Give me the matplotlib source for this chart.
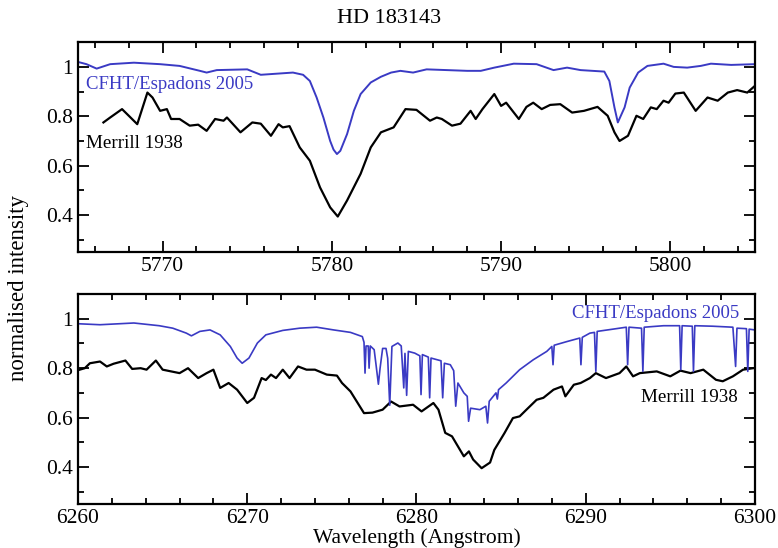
import numpy as np
import matplotlib
matplotlib.use('Agg')
import matplotlib.pyplot as plt
from matplotlib.ticker import MultipleLocator

plt.rcParams['font.family'] = ['Liberation Serif', 'DejaVu Serif']

# --- top panel: 5780 / 5797 DIBs ---
top_cfht_wl = [5765.0, 5765.5, 5766.1, 5766.9, 5768.3, 5769.85, 5771.0, 5772.2,
               5772.6, 5773.2, 5775.0, 5775.8, 5777.7, 5778.3, 5778.7, 5779.1,
               5779.5, 5779.9, 5780.1, 5780.3, 5780.5, 5780.9, 5781.3, 5781.7,
               5782.3, 5782.9, 5783.5, 5784.05, 5784.8, 5785.6, 5786.8, 5788.0,
               5788.8, 5789.6, 5790.75, 5792.1, 5793.1, 5793.9, 5794.7, 5796.1,
               5796.4, 5796.7, 5796.9, 5797.3, 5797.6, 5798.1, 5798.65, 5799.6,
               5800.2, 5801.0, 5801.8, 5802.4, 5803.6, 5805.0]
top_cfht_flux = [1.02, 1.011, 0.993, 1.011, 1.017, 1.011, 1.004, 0.984,
                 0.977, 0.987, 0.99, 0.968, 0.977, 0.968, 0.943, 0.876,
                 0.795, 0.70, 0.665, 0.647, 0.66, 0.728, 0.822, 0.89,
                 0.937, 0.96, 0.977, 0.984, 0.977, 0.99, 0.987, 0.984,
                 0.984, 0.997, 1.013, 1.011, 0.987, 0.997, 0.987, 0.981,
                 0.943, 0.836, 0.775, 0.836, 0.916, 0.977, 1.004, 1.013,
                 1.0, 0.997, 1.004, 1.013, 1.008, 1.011]

top_merrill_wl = [5766.5, 5766.9, 5767.6, 5768.0, 5768.5, 5769.1, 5769.4, 5769.85,
                  5770.25, 5770.5, 5771.0, 5771.6, 5772.1, 5772.6, 5773.1, 5773.6,
                  5773.8, 5774.6, 5775.3, 5775.8, 5776.4, 5776.85, 5777.1, 5777.5,
                  5778.1, 5778.7, 5779.3, 5779.9, 5780.35, 5780.9, 5781.7, 5782.3,
                  5782.9, 5783.65, 5784.35, 5785.0, 5785.8, 5786.2, 5786.5, 5787.1,
                  5787.6, 5788.2, 5788.5, 5788.9, 5789.6, 5790.0, 5790.3, 5791.05,
                  5791.5, 5791.9, 5792.4, 5792.9, 5793.5, 5794.2, 5794.9, 5795.7,
                  5796.3, 5796.7, 5797.0, 5797.5, 5798.0, 5798.4, 5798.85, 5799.2,
                  5799.6, 5799.9, 5800.3, 5800.8, 5801.5, 5802.2, 5802.8, 5803.4,
                  5803.95, 5804.55, 5805.0]
top_merrill_flux = [0.775, 0.795, 0.829, 0.802, 0.768, 0.896, 0.876, 0.822,
                    0.829, 0.789, 0.789, 0.762, 0.766, 0.741, 0.789, 0.782,
                    0.795, 0.735, 0.775, 0.77, 0.721, 0.768, 0.755, 0.76,
                    0.674, 0.62, 0.512, 0.431, 0.394, 0.459, 0.567, 0.674,
                    0.735, 0.755, 0.829, 0.826, 0.782, 0.795, 0.789, 0.762,
                    0.77, 0.822, 0.789, 0.829, 0.89, 0.842, 0.855, 0.789,
                    0.838, 0.855, 0.829, 0.846, 0.849, 0.815, 0.822, 0.838,
                    0.802, 0.735, 0.70, 0.721, 0.802, 0.789, 0.836, 0.829,
                    0.863, 0.855, 0.892, 0.896, 0.822, 0.876, 0.863, 0.896,
                    0.906, 0.896, 0.923]

# --- bottom panel: 6284 DIB with telluric O2 lines ---
bot_cfht_wl = [6260.0, 6261.3, 6263.3, 6264.8, 6265.6, 6266.4, 6266.7, 6267.2,
               6267.8, 6268.4, 6269.0, 6269.4, 6269.7, 6270.1, 6270.6, 6271.1,
               6272.1, 6273.1, 6274.1, 6275.1, 6276.1, 6276.8, 6276.9, 6276.96,
               6277.02, 6277.15, 6277.2, 6277.27, 6277.5, 6277.6, 6277.75, 6277.85,
               6278.0, 6278.2, 6278.3, 6278.42, 6278.55, 6278.9, 6279.1, 6279.25,
               6279.32, 6279.42, 6279.52, 6279.9, 6280.2, 6280.27, 6280.35, 6280.7,
               6280.78, 6280.86, 6281.45, 6281.55, 6281.65, 6282.0, 6282.2, 6282.32,
               6282.45, 6282.8, 6283.0, 6283.08, 6283.2, 6283.75, 6284.1, 6284.2,
               6284.3, 6284.7, 6284.78, 6284.85, 6285.3, 6286.1, 6286.9, 6287.7,
               6288.0, 6288.07, 6288.14, 6288.9, 6289.65, 6289.72, 6289.8, 6290.25,
               6290.52, 6290.6, 6290.68, 6291.6, 6292.4, 6292.48, 6292.56, 6293.3,
               6293.38, 6293.46, 6294.6, 6295.55, 6295.62, 6295.7, 6296.3, 6296.37,
               6296.45, 6297.5, 6298.7, 6298.86, 6298.94, 6299.5, 6299.58, 6299.66,
               6300.0]
bot_cfht_flux = [0.98, 0.976, 0.983, 0.972, 0.962, 0.942, 0.931, 0.949,
                 0.955, 0.935, 0.888, 0.841, 0.82, 0.841, 0.902, 0.935,
                 0.953, 0.962, 0.966, 0.955, 0.945, 0.928, 0.905, 0.78,
                 0.89, 0.89, 0.80, 0.89, 0.875, 0.82, 0.735, 0.80,
                 0.88, 0.88, 0.84, 0.65, 0.888, 0.902, 0.89, 0.72,
                 0.86, 0.69, 0.868, 0.861, 0.85, 0.693, 0.855, 0.845,
                 0.68, 0.841, 0.83, 0.68, 0.82, 0.814, 0.79, 0.646,
                 0.74, 0.70, 0.686, 0.585, 0.638, 0.632, 0.646, 0.578,
                 0.666, 0.70, 0.675, 0.713, 0.74, 0.794, 0.834, 0.868,
                 0.888, 0.814, 0.893, 0.908, 0.922, 0.814, 0.925, 0.942,
                 0.945, 0.787, 0.949, 0.958, 0.966, 0.814, 0.966, 0.962,
                 0.787, 0.966, 0.972, 0.972, 0.794, 0.972, 0.97, 0.787,
                 0.972, 0.97, 0.966, 0.807, 0.962, 0.96, 0.787, 0.958,
                 0.955]

bot_merrill_wl = [6260.1, 6260.4, 6260.7, 6261.3, 6261.7, 6262.1, 6262.8, 6263.2,
                  6263.7, 6264.05, 6264.6, 6265.0, 6266.0, 6266.5, 6267.1, 6267.6,
                  6268.0, 6268.4, 6268.9, 6269.4, 6270.0, 6270.4, 6270.85, 6271.1,
                  6271.4, 6271.7, 6272.1, 6272.5, 6273.0, 6273.5, 6274.0, 6274.7,
                  6275.3, 6275.6, 6276.1, 6276.9, 6277.4, 6278.0, 6278.5, 6279.0,
                  6279.8, 6280.3, 6281.0, 6281.3, 6281.7, 6282.1, 6282.8, 6283.1,
                  6283.35, 6283.85, 6284.35, 6284.6, 6285.2, 6285.7, 6286.1, 6286.5,
                  6287.1, 6287.5, 6288.1, 6288.6, 6288.8, 6289.3, 6289.7, 6290.25,
                  6290.6, 6291.2, 6292.0, 6292.4, 6292.8, 6293.2, 6294.2, 6295.0,
                  6295.6, 6296.2, 6296.95, 6297.7, 6298.1, 6298.7, 6299.3, 6299.9]
bot_merrill_flux = [0.794, 0.80, 0.82, 0.827, 0.807, 0.818, 0.831, 0.797,
                    0.80, 0.794, 0.831, 0.794, 0.78, 0.80, 0.76, 0.78,
                    0.794, 0.72, 0.74, 0.713, 0.659, 0.68, 0.76, 0.752,
                    0.774, 0.76, 0.794, 0.76, 0.807, 0.794, 0.794, 0.774,
                    0.77, 0.74, 0.706, 0.618, 0.62, 0.632, 0.665, 0.645,
                    0.652, 0.625, 0.659, 0.632, 0.538, 0.524, 0.443, 0.463,
                    0.43, 0.395, 0.418, 0.469, 0.537, 0.598, 0.605, 0.632,
                    0.672, 0.68, 0.713, 0.726, 0.686, 0.733, 0.74, 0.76,
                    0.78, 0.76, 0.78, 0.807, 0.767, 0.78, 0.787, 0.767,
                    0.79, 0.78, 0.794, 0.753, 0.747, 0.767, 0.794, 0.80]

BLUE = '#3a3ac4'
FS = 15.5


def style_axis(ax, xlim):
    ax.set_xlim(*xlim)
    ax.set_ylim(0.25, 1.1)
    ax.xaxis.set_major_locator(MultipleLocator(10))
    ax.xaxis.set_minor_locator(MultipleLocator(2))
    ax.yaxis.set_minor_locator(MultipleLocator(0.1))
    ax.set_yticks([0.4, 0.6, 0.8, 1.0])
    ax.set_yticklabels(['0.4', '0.6', '0.8', '1'])
    ax.tick_params(which='both', direction='in', top=True, right=True,
                   labelsize=FS, width=1.3)
    ax.tick_params(which='major', length=8)
    ax.tick_params(which='minor', length=4)
    for sp in ax.spines.values():
        sp.set_linewidth(1.6)


fig = plt.figure(figsize=(7.78, 5.48), dpi=100)
ax1 = fig.add_axes([0.1003, 0.540, 0.870, 0.383])
ax2 = fig.add_axes([0.1003, 0.0803, 0.870, 0.383])

ax1.plot(top_merrill_wl, top_merrill_flux, color='black', lw=1.6)
ax1.plot(top_cfht_wl, top_cfht_flux, color=BLUE, lw=1.4)
style_axis(ax1, (5765, 5805))
ax1.text(5765.5, 0.93, 'CFHT/Espadons 2005', color=BLUE, fontsize=13.5,
         ha='left', va='center')
ax1.text(5765.5, 0.69, 'Merrill 1938', color='black', fontsize=13.7,
         ha='left', va='center')

ax2.plot(bot_merrill_wl, bot_merrill_flux, color='black', lw=1.6)
ax2.plot(bot_cfht_wl, bot_cfht_flux, color=BLUE, lw=1.2)
style_axis(ax2, (6260, 6300))
ax2.text(6299.1, 1.02, 'CFHT/Espadons 2005', color=BLUE, fontsize=13.5,
         ha='right', va='center')
ax2.text(6299.0, 0.68, 'Merrill 1938', color='black', fontsize=13.7,
         ha='right', va='center')
ax2.set_xlabel('Wavelength (Angstrom)', fontsize=FS, labelpad=0)

fig.text(0.5, 0.967, 'HD 183143', ha='center', va='center', fontsize=16)
fig.text(0.024, 0.474, 'normalised intensity', rotation=90, ha='center',
         va='center', fontsize=16.5)

fig.savefig('out.png', dpi=100, facecolor='white')
